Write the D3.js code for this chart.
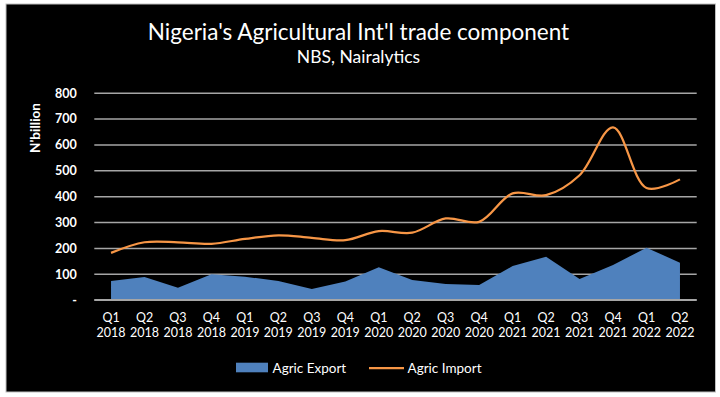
<!DOCTYPE html>
<html><head><meta charset="utf-8">
<script src="https://cdn.jsdelivr.net/npm/d3@7"></script>
<style>html,body{margin:0;padding:0;background:#fff;}svg{display:block;}</style>
</head><body><svg id="c" width="720" height="397"></svg>
<script>
const quarters = ["Q1","Q2","Q3","Q4","Q1","Q2","Q3","Q4","Q1","Q2","Q3","Q4","Q1","Q2","Q3","Q4","Q1","Q2"];
const years = ["2018","2018","2018","2018","2019","2019","2019","2019","2020","2020","2020","2020","2021","2021","2021","2021","2022","2022"];
const agricExport = [72,88,46,98,89,72,41,70,125,76,61,57,130,166,80,134,201,143];
const agricImport = [181,222,222,216,235,249,239,230,265,259,314,301,411,404,481,666,432,465];
const yTicks = [0,100,200,300,400,500,600,700,800];
const yTickLabels = ["-","100","200","300","400","500","600","700","800"];
const seriesNames = ["Agric Export","Agric Import"];

const FONT = "Lato, 'Open Sans', sans-serif";
const svg = d3.select("#c");
svg.append("rect").attr("x",6).attr("y",4).attr("width",709.5).attr("height",388)
  .attr("fill","#000").attr("stroke","#bfbfbf").attr("stroke-width",1);

const cats = quarters.map((q,i)=>q+" "+years[i]);
const x = d3.scaleBand().domain(cats).range([94.3,696.7]).padding(0);
const y = d3.scaleLinear().domain([0,800]).range([299.7,92.7]);
const cx = i => x(cats[i]) + x.bandwidth()/2;

// gridlines
const yAxis = d3.axisLeft(y).tickValues(yTicks).tickSize(-(696.7-94.3)).tickFormat((d,i)=>yTickLabels[i]);
const gy = svg.append("g").attr("transform","translate(94.3,0)").call(yAxis);
gy.select(".domain").remove();
gy.selectAll(".tick line").attr("stroke","#a6a6a6").attr("stroke-width",1.5);
gy.selectAll(".tick text").attr("x",-17.5).attr("fill","#fff").attr("font-family",FONT)
  .attr("font-size",12.5).attr("font-weight","bold").attr("dy","0.35em");

// area
const area = d3.area().x((d,i)=>cx(i)).y0(y(0)).y1(d=>y(d));
svg.append("path").datum(agricExport).attr("d",area).attr("fill","#4f81bd");
// redraw zero line on top
svg.append("line").attr("x1",94.3).attr("x2",696.7).attr("y1",y(0)).attr("y2",y(0))
  .attr("stroke","#a6a6a6").attr("stroke-width",1.5);

// line
const line = d3.line().x((d,i)=>cx(i)).y(d=>y(d)).curve(d3.curveCatmullRom.alpha(0.5));
svg.append("path").datum(agricImport).attr("d",line).attr("fill","none")
  .attr("stroke","#f79646").attr("stroke-width",2.25).attr("stroke-linejoin","round");

// x axis labels
const xAxis = d3.axisBottom(x).tickSize(0).tickFormat(()=>"");
const gx = svg.append("g").attr("transform",`translate(0,${y(0)})`).call(xAxis);
gx.select(".domain").remove();
gx.selectAll(".tick").each(function(d,i){
  const t = d3.select(this).select("text").text(null)
    .attr("fill","#fff").attr("font-family",FONT).attr("font-size",12.5).attr("y",0).attr("dy",null);
  t.append("tspan").attr("x",0).attr("y",22.3).text(quarters[i]);
  t.append("tspan").attr("x",0).attr("y",37.3).text(years[i]);
});

// titles
svg.append("text").attr("x",358.5).attr("y",40).attr("text-anchor","middle").attr("fill","#fff")
  .attr("font-family",FONT).attr("font-size",22.5).text("Nigeria's Agricultural Int'l trade component");
svg.append("text").attr("x",358.5).attr("y",62.5).attr("text-anchor","middle").attr("fill","#fff")
  .attr("font-family",FONT).attr("font-size",17.5).text("NBS, Nairalytics");
svg.append("text").attr("transform","translate(39.5,128) rotate(-90)").attr("text-anchor","middle")
  .attr("fill","#fff").attr("font-family",FONT).attr("font-size",13.5).attr("font-weight","bold").text("N'billion");

// legend
svg.append("rect").attr("x",236).attr("y",362.7).attr("width",32).attr("height",9.6).attr("fill","#4f81bd");
svg.append("text").attr("x",272.5).attr("y",372.5).attr("fill","#fff").attr("font-family",FONT).attr("font-size",13.5).text(seriesNames[0]);
svg.append("line").attr("x1",369).attr("x2",404).attr("y1",368).attr("y2",368).attr("stroke","#f79646").attr("stroke-width",2.25);
svg.append("text").attr("x",407.5).attr("y",372.5).attr("fill","#fff").attr("font-family",FONT).attr("font-size",13.5).text(seriesNames[1]);
</script></body></html>
